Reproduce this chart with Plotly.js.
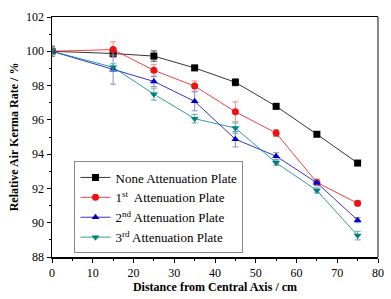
<!DOCTYPE html>
<html><head><meta charset="utf-8">
<script src="https://cdn.plot.ly/plotly-3.0.1.min.js"></script>
<style>html,body{margin:0;padding:0;background:#fff}#chart{width:391px;height:299px}</style>
</head><body><div id="chart"></div>
<script>
const distance = [0, 15, 25, 35, 45, 55, 65, 75];
const seriesNames = ['None Attenuation Plate', '1<sup>st</sup>  Attenuation Plate', '2<sup>nd</sup> Attenuation Plate', '3<sup>rd</sup> Attenuation Plate'];
const noneVals = [100, 99.87, 99.72, 99.03, 98.19, 96.79, 95.16, 93.48];
const noneErr  = [0.3, 0.2, 0.3, 0.15, 0.2, 0.15, 0.1, 0.1];
const firstVals = [100, 100.1, 98.89, 97.97, 96.47, 95.23, 92.35, 91.13];
const firstErr  = [0.2, 0.45, 0.35, 0.3, 0.58, 0.2, 0.2, 0.15];
const secondVals = [100, 98.93, 98.24, 97.08, 94.87, 93.88, 92.33, 90.15];
const secondErr  = [0.3, 0.85, 0.3, 0.55, 0.45, 0.2, 0.15, 0.15];
const thirdVals = [100, 99.07, 97.5, 96.07, 95.52, 93.5, 91.88, 89.25];
const thirdErr  = [0.2, 0.2, 0.35, 0.25, 0.3, 0.15, 0.15, 0.25];
const xTicks = [0, 10, 20, 30, 40, 50, 60, 70, 80];
const yTicks = [88, 90, 92, 94, 96, 98, 100, 102];

const colors = ['#000000', '#ee1111', '#0000cc', '#008080'];
const errColors = ['#444444', '#f08888', '#8888dd', '#66aaaa'];
const symbols = ['square', 'circle', 'triangle-up', 'triangle-down'];
const vals = [noneVals, firstVals, secondVals, thirdVals];
const errs = [noneErr, firstErr, secondErr, thirdErr];

const traces = vals.map((v, i) => ({
  x: distance, y: v, name: seriesNames[i], type: 'scatter', mode: 'lines+markers',
  line: {color: colors[i], width: 0.8},
  marker: {symbol: symbols[i], size: 7, color: colors[i]},
  error_y: {type: 'data', array: errs[i], visible: true, color: errColors[i], thickness: 1, width: 3}
}));

const FAM = 'Liberation Serif';
const font = {family: FAM, color: '#000'};
const layout = {
  width: 391, height: 299,
  margin: {l: 51.5, r: 13, t: 16.7, b: 42.3},
  paper_bgcolor: '#fff', plot_bgcolor: '#fff',
  font: Object.assign({size: 12}, font),
  showlegend: true,
  legend: {x: 0.069, y: 0.398, xanchor: 'left', yanchor: 'top', bordercolor: '#888', borderwidth: 1,
    bgcolor: '#fff', font: Object.assign({size: 13}, font), tracegroupgap: 0, itemwidth: 30},
  xaxis: {range: [0, 80], tickvals: xTicks, ticktext: xTicks.map(String), ticks: 'outside', ticklen: 4,
    tickwidth: 1, tickcolor: '#000', showline: true, linecolor: '#000', linewidth: 1.5, mirror: true,
    showgrid: false, zeroline: false, tickfont: Object.assign({size: 12}, font),
    minor: {dtick: 5, ticks: 'outside', ticklen: 2, tickcolor: '#000', showgrid: false},
    title: {text: '<b>Distance from Central Axis / cm</b>', font: Object.assign({size: 12}, font), standoff: 3}},
  yaxis: {range: [88, 102], tickvals: yTicks, ticktext: yTicks.map(String), ticks: 'outside', ticklen: 4,
    tickwidth: 1, tickcolor: '#000', showline: true, linecolor: '#000', linewidth: 1.5, mirror: false,
    showgrid: false, zeroline: false, tickfont: Object.assign({size: 12}, font),
    minor: {dtick: 1, ticks: 'outside', ticklen: 2, tickcolor: '#000', showgrid: false},
    title: {text: '<b>Relative Air Kerma Rate / %</b>', font: Object.assign({size: 12}, font), standoff: 5}},
  shapes: [{type: 'line', xref: 'paper', yref: 'paper', x0: 1, x1: 1, y0: 0, y1: 1,
    line: {color: '#888', width: 2}}]
};
Plotly.newPlot('chart', traces, layout, {staticPlot: true, displayModeBar: false});
</script></body></html>
